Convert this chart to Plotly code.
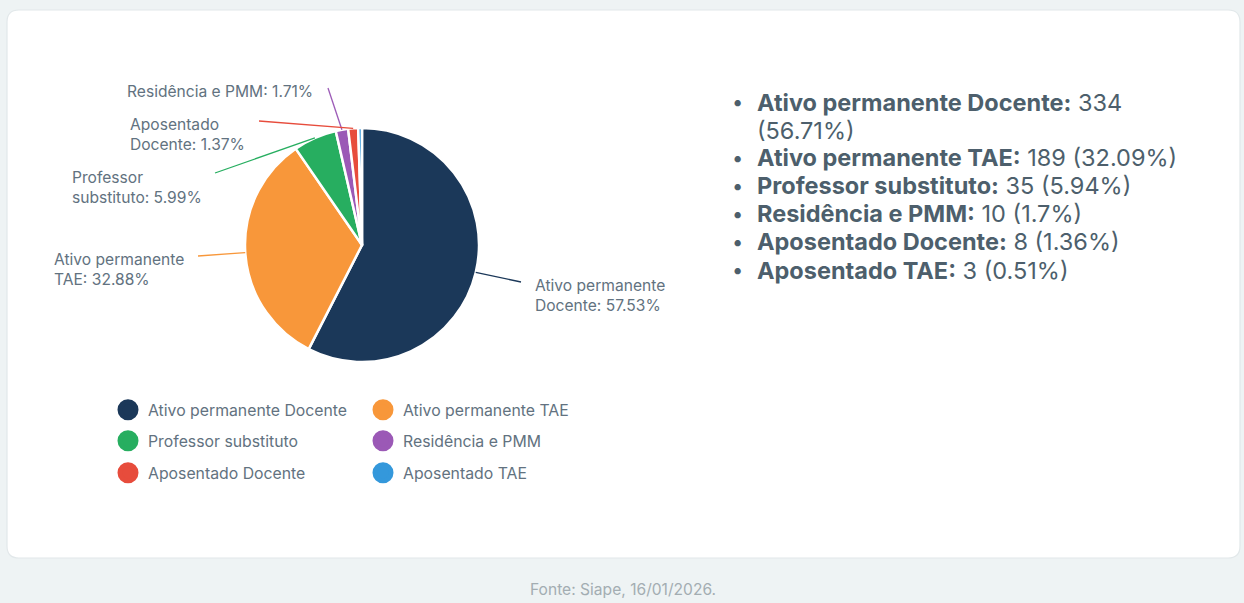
import math
import plotly.graph_objects as go

W, H = 1244, 603

# ---------------- data ----------------
categories = ["Ativo permanente Docente", "Ativo permanente TAE", "Professor substituto",
              "Residência e PMM", "Aposentado Docente", "Aposentado TAE"]
pie_percent = [57.53, 32.88, 5.99, 1.71, 1.37, 0.52]
pie_labels = ["Ativo permanente<br>Docente: 57.53%", "Ativo permanente<br>TAE: 32.88%",
              "Professor<br>substituto: 5.99%", "Residência e PMM: 1.71%",
              "Aposentado<br>Docente: 1.37%", None]
counts = [334, 189, 35, 10, 8, 3]
count_percent = ["56.71%", "32.09%", "5.94%", "1.7%", "1.36%", "0.51%"]
source_text = "Fonte: Siape, 16/01/2026."

colors = ["#1b3859", "#f8973a", "#27ae60", "#9b59b6", "#e74c3c", "#3498db"]

# ---------------- helpers ----------------
def px(x):
    return x / W

def py(y):
    return 1 - y / H

TXT = "#627280"
LIST = "#4d5f6c"
FONT = "Inter"
BG = "#eef3f4"

cx, cy, R = 362, 245, 117

fig = go.Figure()

fig.add_trace(go.Pie(
    values=pie_percent, labels=categories, sort=False, direction="clockwise", rotation=0,
    marker=dict(colors=colors, line=dict(color="white", width=2.5)),
    textinfo="none", showlegend=False, hoverinfo="label+percent",
    domain=dict(x=[px(cx - R), px(cx + R)], y=[py(cy + R), py(cy - R)]),
))

# legend entries (three one-row legends, two columns)
legend_names = ["legend", "legend2", "legend3"]
for i, (cat, col) in enumerate(zip(categories, colors)):
    fig.add_trace(go.Scatter(
        x=[None], y=[None], mode="markers", name=cat,
        marker=dict(size=16, color=col, line=dict(color=col, width=5)),
        legend=legend_names[i // 2], hoverinfo="skip",
    ))

row_y = [410, 441, 473]
legend_common = dict(orientation="h", xanchor="left", yanchor="middle", x=px(108),
                     entrywidth=210, bgcolor="rgba(0,0,0,0)", traceorder="normal",
                     font=dict(family=FONT, size=15.8, color=TXT), itemclick=False)
fig.update_layout(
    legend=dict(y=py(row_y[0]), **legend_common),
    legend2=dict(y=py(row_y[1]), **legend_common),
    legend3=dict(y=py(row_y[2]), **legend_common),
)

shapes = []
annotations = []

# card
x0, y0, x1, y1, rr = 7, 10, 1240, 558, 12
path = (f"M {px(x0+rr)} {py(y0)} L {px(x1-rr)} {py(y0)} Q {px(x1)} {py(y0)} {px(x1)} {py(y0+rr)} "
        f"L {px(x1)} {py(y1-rr)} Q {px(x1)} {py(y1)} {px(x1-rr)} {py(y1)} "
        f"L {px(x0+rr)} {py(y1)} Q {px(x0)} {py(y1)} {px(x0)} {py(y1-rr)} "
        f"L {px(x0)} {py(y0+rr)} Q {px(x0)} {py(y0)} {px(x0+rr)} {py(y0)} Z")
shapes.append(dict(type="path", path=path, xref="paper", yref="paper",
                   fillcolor="white", line=dict(color="#e2e8ea", width=1.2), layer="below"))

# pie outside labels with leader lines (label placement = layout)
label_end = [(521, 282), (198, 256), (215, 173), (328, 88), (259, 121), None]
label_pos = [(533, 295), (52, 269.5), (70, 187), (125, 92), (128, 134.5), None]
total = sum(pie_percent)
cum = 0
for i, v in enumerate(pie_percent):
    mid = (cum + v / 2) / total * 2 * math.pi
    cum += v
    if pie_labels[i] is None:
        continue
    sx = cx + R * math.sin(mid)
    sy = cy - R * math.cos(mid)
    ex, ey = label_end[i]
    shapes.append(dict(type="line", xref="paper", yref="paper",
                       x0=px(sx), y0=py(sy), x1=px(ex), y1=py(ey),
                       line=dict(color=colors[i], width=1.3)))
    lx, ly = label_pos[i]
    annotations.append(dict(x=px(lx), y=py(ly), xref="paper", yref="paper", xanchor="left",
                            yanchor="middle", align="left", showarrow=False,
                            text=pie_labels[i], font=dict(family=FONT, size=15.6, color=TXT)))

# right-side list
lines = []
for i, cat in enumerate(categories):
    if i == 0:
        lines.append((True, f"<b>{cat}:</b> {counts[i]}"))
        lines.append((False, f"({count_percent[i]})"))
    else:
        lines.append((True, f"<b>{cat}:</b> {counts[i]} ({count_percent[i]})"))
y = 102
for bullet, t in lines:
    if bullet:
        annotations.append(dict(x=px(737), y=py(y), xref="paper", yref="paper", xanchor="center",
                                yanchor="middle", showarrow=False, text="•",
                                font=dict(family=FONT, size=20, color=LIST)))
    annotations.append(dict(x=px(755), y=py(y), xref="paper", yref="paper", xanchor="left",
                            yanchor="middle", showarrow=False, text=t,
                            font=dict(family=FONT, size=23.5, color=LIST)))
    y += 28

# footer
annotations.append(dict(x=px(623), y=py(589), xref="paper", yref="paper", xanchor="center",
                        yanchor="middle", showarrow=False, text=source_text,
                        font=dict(family=FONT, size=15.6, color="#a3adb2")))

fig.update_layout(
    width=W, height=H, margin=dict(l=0, r=0, t=0, b=0),
    paper_bgcolor=BG, plot_bgcolor="rgba(0,0,0,0)",
    xaxis=dict(visible=False), yaxis=dict(visible=False),
    shapes=shapes, annotations=annotations,
    font=dict(family=FONT),
)

fig.write_html(
    "out.html",
    config={"displayModeBar": False},
    post_script=f"document.body.style.margin='0';document.body.style.background='{BG}';"
                "document.body.style.overflow='hidden';",
)
